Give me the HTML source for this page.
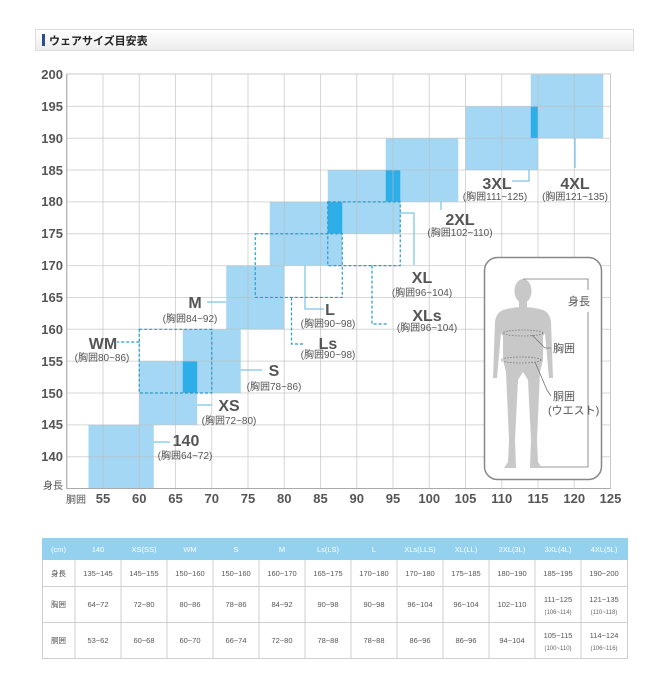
<!DOCTYPE html>
<html><head><meta charset="utf-8"><style>
html,body{margin:0;padding:0;background:#fff;}
body{width:669px;height:681px;overflow:hidden;font-family:"Liberation Sans","Noto Sans CJK JP",sans-serif;}
</style></head><body>
<svg width="669" height="681" viewBox="0 0 669 681" xmlns="http://www.w3.org/2000/svg" font-family="Liberation Sans, Noto Sans CJK JP, sans-serif">
<defs><linearGradient id="hg" x1="0" y1="0" x2="0" y2="1"><stop offset="0" stop-color="#ffffff"/><stop offset="1" stop-color="#ececec"/></linearGradient></defs>
<!-- header -->
<rect x="35.5" y="29.5" width="598" height="21" fill="url(#hg)" stroke="#dcdcdc"/>
<rect x="42" y="34" width="3" height="12" fill="#2b4f8c"/>
<text x="49" y="44.5" font-size="11" font-weight="bold" fill="#222">ウェアサイズ目安表</text>

<!-- boxes -->
<g fill="#a3d7f3">
<rect x="88.5" y="424.85" width="65.25" height="63.7"/>
<rect x="139.25" y="361.15" width="58" height="63.7"/>
<rect x="182.75" y="329.3" width="58" height="63.7"/>
<rect x="226.25" y="265.6" width="58" height="63.7"/>
<rect x="269.75" y="201.9" width="72.5" height="63.7"/>
<rect x="327.75" y="170.05" width="72.5" height="63.7"/>
<rect x="385.75" y="138.2" width="72.5" height="63.7"/>
<rect x="465.5" y="106.35" width="72.5" height="63.7"/>
<rect x="530.75" y="74.5" width="72.5" height="63.7"/>
</g>
<g fill="#2eaee8">
<rect x="182.75" y="361.15" width="14.5" height="31.85"/>
<rect x="327.75" y="201.9" width="14.5" height="31.85"/>
<rect x="385.75" y="170.05" width="14.5" height="31.85"/>
<rect x="530.75" y="106.35" width="7.25" height="31.85"/>
</g>

<!-- grid -->
<g stroke="#bcbcbc" stroke-opacity="0.6" stroke-width="1">
<line x1="103" y1="74" x2="103" y2="488.5"/><line x1="139.25" y1="74" x2="139.25" y2="488.5"/><line x1="175.5" y1="74" x2="175.5" y2="488.5"/><line x1="211.75" y1="74" x2="211.75" y2="488.5"/><line x1="248" y1="74" x2="248" y2="488.5"/><line x1="284.25" y1="74" x2="284.25" y2="488.5"/><line x1="320.5" y1="74" x2="320.5" y2="488.5"/><line x1="356.75" y1="74" x2="356.75" y2="488.5"/><line x1="393" y1="74" x2="393" y2="488.5"/><line x1="429.25" y1="74" x2="429.25" y2="488.5"/><line x1="465.5" y1="74" x2="465.5" y2="488.5"/><line x1="501.75" y1="74" x2="501.75" y2="488.5"/><line x1="538" y1="74" x2="538" y2="488.5"/><line x1="574.25" y1="74" x2="574.25" y2="488.5"/>
<line x1="66.75" y1="106.35" x2="610.5" y2="106.35"/><line x1="66.75" y1="138.2" x2="610.5" y2="138.2"/><line x1="66.75" y1="170.05" x2="610.5" y2="170.05"/><line x1="66.75" y1="201.9" x2="610.5" y2="201.9"/><line x1="66.75" y1="233.75" x2="610.5" y2="233.75"/><line x1="66.75" y1="265.6" x2="610.5" y2="265.6"/><line x1="66.75" y1="297.45" x2="610.5" y2="297.45"/><line x1="66.75" y1="329.3" x2="610.5" y2="329.3"/><line x1="66.75" y1="361.15" x2="610.5" y2="361.15"/><line x1="66.75" y1="393" x2="610.5" y2="393"/><line x1="66.75" y1="424.85" x2="610.5" y2="424.85"/><line x1="66.75" y1="456.7" x2="610.5" y2="456.7"/>
</g>
<rect x="66.75" y="74" width="543.75" height="414.5" fill="none" stroke="#c8c8c8"/>
<line x1="66.75" y1="74" x2="66.75" y2="488.5" stroke="#aaa"/>
<line x1="66.75" y1="488.5" x2="610.5" y2="488.5" stroke="#aaa"/>

<!-- dashed boxes -->
<g fill="none" stroke="#2a9ccc" stroke-width="1.2" stroke-dasharray="3,2">
<rect x="139.25" y="329.3" width="72.5" height="63.7"/>
<rect x="255.25" y="233.75" width="87" height="63.7"/>
<rect x="327.75" y="201.9" width="72.5" height="63.7"/>
<polyline points="139.25,342 117,342"/>
<polyline points="291.5,297.45 291.5,344 304,344"/>
<polyline points="372,265.6 372,324 388,324"/>
</g>
<!-- solid leaders -->
<g fill="none" stroke="#5bb8e0" stroke-width="1">
<polyline points="153.75,442 170,442"/>
<polyline points="197.25,405 212,405"/>
<polyline points="240.75,370 262,370"/>
<polyline points="207,302 226.25,302"/>
<polyline points="305,265.6 305,309 324,309"/>
<polyline points="400.25,213 414,213 414,265"/>
<polyline points="441,201.9 441,210"/>
<polyline points="529,170.05 529,181 512,181"/>
<polyline points="575,138.2 575,168"/>
</g>

<!-- axis labels -->
<g font-size="13" font-weight="bold" fill="#555" text-anchor="end">
<text x="63" y="79">200</text><text x="63" y="111">195</text><text x="63" y="143">190</text><text x="63" y="175">185</text><text x="63" y="206">180</text><text x="63" y="238">175</text><text x="63" y="270">170</text><text x="63" y="302">165</text><text x="63" y="334">160</text><text x="63" y="366">155</text><text x="63" y="398">150</text><text x="63" y="429">145</text><text x="63" y="461">140</text>
</g>
<text x="63" y="489" font-size="10" fill="#555" text-anchor="end">身長</text>
<text x="66" y="503" font-size="10" fill="#555">胴囲</text>
<g font-size="13" font-weight="bold" fill="#555" text-anchor="middle">
<text x="103" y="503">55</text><text x="139.25" y="503">60</text><text x="175.5" y="503">65</text><text x="211.75" y="503">70</text><text x="248" y="503">75</text><text x="284.25" y="503">80</text><text x="320.5" y="503">85</text><text x="356.75" y="503">90</text><text x="393" y="503">95</text><text x="429.25" y="503">100</text><text x="465.5" y="503">105</text><text x="501.75" y="503">110</text><text x="538" y="503">115</text><text x="574.25" y="503">120</text><text x="610.5" y="503">125</text>
</g>

<!-- size labels -->
<g font-size="16" font-weight="bold" fill="#555" text-anchor="middle">
<text x="186" y="446">140</text>
<text x="229" y="411">XS</text>
<text x="274" y="376">S</text>
<text x="195" y="308">M</text>
<text x="103" y="349">WM</text>
<text x="330" y="315">L</text>
<text x="328" y="349">Ls</text>
<text x="422" y="283">XL</text>
<text x="427" y="321">XLs</text>
<text x="460" y="225">2XL</text>
<text x="497" y="189">3XL</text>
<text x="575" y="189">4XL</text>
</g>
<g font-size="10" fill="#555" text-anchor="middle">
<text x="185" y="459">(胸囲64~72)</text>
<text x="229" y="424">(胸囲72~80)</text>
<text x="274" y="390">(胸囲78~86)</text>
<text x="190" y="322">(胸囲84~92)</text>
<text x="102" y="361">(胸囲80~86)</text>
<text x="328" y="327">(胸囲90~98)</text>
<text x="328" y="358">(胸囲90~98)</text>
<text x="422" y="296">(胸囲96~104)</text>
<text x="427" y="331">(胸囲96~104)</text>
<text x="460" y="236">(胸囲102~110)</text>
<text x="495" y="200">(胸囲111~125)</text>
<text x="575" y="200">(胸囲121~135)</text>
</g>

<!-- figure box -->
<rect x="484.5" y="257.5" width="117" height="222" rx="13" fill="#fff" stroke="#888" stroke-width="1.5"/>
<g fill="#c8c8c8">
<ellipse cx="523" cy="291" rx="8.5" ry="12"/>
<rect x="519" y="300" width="8" height="10"/>
<path d="M503,310 Q523,304 543,310 Q550,313 551,322 L553,378 L549,378 L545,333 L543,336 L543,360 L540,372 L537,440 L538,462 L542,468 L530,468 L531,440 L528,380 L523,372 L518,380 L515,440 L516,468 L504,468 L508,462 L509,440 L506,372 L503,360 L503,336 L501,333 L497,378 L493,378 L495,322 Q496,313 503,310 Z"/>
</g>
<g fill="none" stroke="#777" stroke-width="0.8">
<ellipse cx="523" cy="333" rx="20" ry="3" stroke-dasharray="1.5,1.5"/>
<ellipse cx="521" cy="360" rx="20" ry="3" stroke-dasharray="1.5,1.5"/>
<polyline points="523,279 588,279 588,290"/>
<polyline points="588,312 588,467 541,467"/>
<polyline points="532,335 545,348 551,348"/>
<polyline points="535,362 547,390 551,396"/>
</g>
<g font-size="11" fill="#555">
<text x="568" y="305">身長</text>
<text x="553" y="352">胸囲</text>
<text x="553" y="400">胴囲</text>
<text x="548" y="414">(ウエスト)</text>
</g>

<!-- table -->
<rect x="42" y="538" width="586" height="22" fill="#93d1ef"/>
<g font-size="7.5" fill="#ffffff" text-anchor="middle">
<text x="58.5" y="552">(cm)</text><text x="98" y="552">140</text><text x="144" y="552">XS(SS)</text><text x="190" y="552">WM</text><text x="236" y="552">S</text><text x="282" y="552">M</text><text x="328" y="552">Ls(LS)</text><text x="374" y="552">L</text><text x="420" y="552">XLs(LLS)</text><text x="466" y="552">XL(LL)</text><text x="512" y="552">2XL(3L)</text><text x="558" y="552">3XL(4L)</text><text x="604" y="552">4XL(5L)</text>
</g>
<g stroke="#cfcfcf" stroke-width="1" fill="none">
<line x1="42" y1="586.5" x2="628" y2="586.5"/><line x1="42" y1="622.5" x2="628" y2="622.5"/><line x1="42" y1="658.5" x2="628" y2="658.5"/>
<line x1="42.5" y1="560" x2="42.5" y2="658"/><line x1="75" y1="560" x2="75" y2="658"/><line x1="121" y1="560" x2="121" y2="658"/><line x1="167" y1="560" x2="167" y2="658"/><line x1="213" y1="560" x2="213" y2="658"/><line x1="259" y1="560" x2="259" y2="658"/><line x1="305" y1="560" x2="305" y2="658"/><line x1="351" y1="560" x2="351" y2="658"/><line x1="397" y1="560" x2="397" y2="658"/><line x1="443" y1="560" x2="443" y2="658"/><line x1="489" y1="560" x2="489" y2="658"/><line x1="535" y1="560" x2="535" y2="658"/><line x1="581" y1="560" x2="581" y2="658"/><line x1="627.5" y1="560" x2="627.5" y2="658"/>
</g>
<g font-size="7.5" fill="#555" text-anchor="middle">
<text x="58.5" y="576">身長</text><text x="98" y="576">135~145</text><text x="144" y="576">145~155</text><text x="190" y="576">150~160</text><text x="236" y="576">150~160</text><text x="282" y="576">160~170</text><text x="328" y="576">165~175</text><text x="374" y="576">170~180</text><text x="420" y="576">170~180</text><text x="466" y="576">175~185</text><text x="512" y="576">180~190</text><text x="558" y="576">185~195</text><text x="604" y="576">190~200</text>
<text x="58.5" y="607">胸囲</text><text x="98" y="607">64~72</text><text x="144" y="607">72~80</text><text x="190" y="607">80~86</text><text x="236" y="607">78~86</text><text x="282" y="607">84~92</text><text x="328" y="607">90~98</text><text x="374" y="607">90~98</text><text x="420" y="607">96~104</text><text x="466" y="607">96~104</text><text x="512" y="607">102~110</text><text x="558" y="602">111~125</text><text x="604" y="602">121~135</text>
<text x="58.5" y="643">胴囲</text><text x="98" y="643">53~62</text><text x="144" y="643">60~68</text><text x="190" y="643">60~70</text><text x="236" y="643">66~74</text><text x="282" y="643">72~80</text><text x="328" y="643">78~88</text><text x="374" y="643">78~88</text><text x="420" y="643">86~96</text><text x="466" y="643">86~96</text><text x="512" y="643">94~104</text><text x="558" y="638">105~115</text><text x="604" y="638">114~124</text>
</g>
<g font-size="6" fill="#666" text-anchor="middle">
<text x="558" y="614">(106~114)</text><text x="604" y="614">(110~118)</text>
<text x="558" y="650">(100~110)</text><text x="604" y="650">(106~116)</text>
</g>
</svg>
</body></html>
